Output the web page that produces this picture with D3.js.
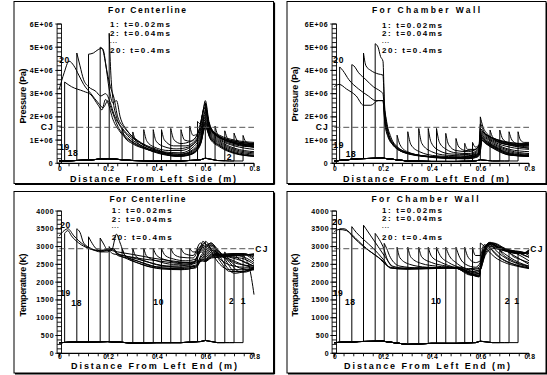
<!DOCTYPE html>
<html lang="en">
<head>
    <meta charset="utf-8" />
    <title>Detonation profiles</title>
    <script src="https://cdn.jsdelivr.net/npm/d3@7"></script>
    <style>
        body { margin: 0; background: #fff; }
        svg { display: block; font-family: 'Liberation Sans', Arial, sans-serif; font-weight: bold; }
        path.curve { fill: none; stroke: #000; stroke-width: 1px; }
        line.cj { stroke: #555; stroke-width: 1px; stroke-dasharray: 6 3; }
        .axis line { stroke: #000; stroke-width: 0.9px; }
        text { fill: #000; }
    </style>
</head>
<body>
<svg id="vis" width="547" height="375"></svg>
<script>
    // ---- data ----
    var xTicks = [0, 0.2, 0.4, 0.6, 0.8];
    var pTicks = [0, 1, 2, 3, 4, 5, 6];            // x 1E6 Pa
    var pTickLabels = ["0", "1E+06", "2E+06", "3E+06", "4E+06", "5E+06", "6E+06"];
    var tTicks = [0, 500, 1000, 1500, 2000, 2500, 3000, 3500, 4000];
    var legendLines = ["1: t=0.02ms", "2: t=0.04ms", "...", "20: t=0.4ms"];
    var cjP = 1.55;
    var cjT = 2940;

    // detonation front position of curves 1..20 (m)
    var fronts = [0.755, 0.718, 0.68, 0.64, 0.60, 0.568, 0.536, 0.50, 0.458, 0.42,
                  0.386, 0.347, 0.302, 0.258, 0.205, 0.168, 0.12, 0.072, 0.022, 0];

    // unburned gas ahead of the front
    var ambX  = [0, 0.1, 0.2, 0.3, 0.4, 0.5, 0.58, 0.6, 0.65, 0.7, 0.8];
    var ambP1 = [0.1, 0.13, 0.2, 0.12, 0.1, 0.1, 0.15, 0.22, 0.12, 0.1, 0.1];
    var ambP2 = [0.1, 0.2, 0.22, 0.1, 0.08, 0.08, 0.1, 0.15, 0.1, 0.1, 0.1];
    var ambT3 = [300, 320, 330, 290, 300, 300, 330, 360, 300, 300, 300];
    var ambT4 = [300, 330, 340, 250, 280, 280, 300, 340, 300, 300, 300];

    // pressure, centerline
    var peakP1 = [1.2, 1.3, 1.4, 1.6, 2.6, 1.8, 1.6, 1.45, 1.5, 1.45, 1.45, 1.45, 1.35, 1.5, 5.6, 5.0, 4.7, 4.75, 3.5, 3.2];
    var profP1 = [
        [[0.765, 0.95], [0.78, 0.85], [0.8, 0.8]],
        [[0.73, 1.0], [0.75, 0.85], [0.8, 0.75]],
        [[0.692, 1.05], [0.71, 0.9], [0.75, 0.8], [0.8, 0.7]],
        [[0.65, 1.25], [0.67, 1.05], [0.72, 0.85], [0.8, 0.7]],
        [[0.61, 1.9], [0.63, 1.4], [0.67, 1.05], [0.72, 0.85], [0.8, 0.7]],
        [[0.58, 1.7], [0.595, 2.4], [0.605, 2.2], [0.62, 1.5], [0.65, 1.15], [0.7, 0.95], [0.8, 0.75]],
        [[0.55, 1.2], [0.57, 1.3], [0.59, 2.2], [0.6, 2.6], [0.615, 1.7], [0.64, 1.25], [0.7, 0.95], [0.8, 0.8]],
        [[0.515, 1.0], [0.54, 0.95], [0.57, 1.3], [0.59, 2.2], [0.6, 2.7], [0.615, 1.8], [0.64, 1.3], [0.7, 1.0], [0.8, 0.85]],
        [[0.472, 1.0], [0.5, 0.85], [0.54, 0.95], [0.57, 1.3], [0.6, 2.4], [0.62, 1.5], [0.66, 1.2], [0.72, 1.0], [0.8, 0.9]],
        [[0.432, 1.0], [0.47, 0.75], [0.52, 0.75], [0.56, 1.0], [0.59, 1.8], [0.6, 2.3], [0.62, 1.5], [0.66, 1.15], [0.72, 0.95], [0.8, 0.85]],
        [[0.398, 0.95], [0.43, 0.72], [0.48, 0.62], [0.53, 0.7], [0.57, 1.1], [0.6, 2.2], [0.62, 1.45], [0.66, 1.1], [0.72, 0.9], [0.8, 0.8]],
        [[0.36, 0.95], [0.39, 0.7], [0.45, 0.55], [0.5, 0.55], [0.55, 0.8], [0.58, 1.3], [0.6, 2.1], [0.62, 1.4], [0.66, 1.05], [0.72, 0.8], [0.8, 0.7]],
        [[0.315, 0.95], [0.35, 0.7], [0.42, 0.5], [0.5, 0.45], [0.55, 0.7], [0.58, 1.2], [0.6, 2.0], [0.62, 1.35], [0.66, 1.0], [0.72, 0.75], [0.8, 0.6]],
        [[0.27, 1.1], [0.3, 0.85], [0.36, 0.6], [0.44, 0.42], [0.5, 0.4], [0.55, 0.6], [0.58, 1.1], [0.6, 1.9], [0.62, 1.3], [0.66, 0.95], [0.72, 0.65], [0.8, 0.5]],
        [[0.212, 3.8], [0.22, 2.8], [0.235, 2.0], [0.26, 1.5], [0.3, 1.1], [0.36, 0.72], [0.44, 0.45], [0.5, 0.38], [0.55, 0.55], [0.58, 1.0], [0.6, 1.8], [0.62, 1.25], [0.66, 0.9], [0.72, 0.6], [0.8, 0.45]],
        [[0.18, 4.9], [0.195, 4.0], [0.21, 3.3], [0.225, 2.8], [0.24, 2.0], [0.27, 1.5], [0.32, 1.0], [0.4, 0.6], [0.48, 0.35], [0.54, 0.45], [0.58, 0.95], [0.6, 1.75], [0.62, 1.2], [0.66, 0.85], [0.72, 0.55], [0.8, 0.4]],
        [[0.14, 4.75], [0.16, 4.9], [0.175, 4.95], [0.19, 4.3], [0.205, 3.2], [0.22, 2.6], [0.235, 2.7], [0.25, 2.0], [0.28, 1.4], [0.33, 0.9], [0.4, 0.55], [0.48, 0.32], [0.54, 0.4], [0.58, 0.9], [0.6, 1.7], [0.62, 1.15], [0.66, 0.8], [0.72, 0.5], [0.8, 0.35]],
        [[0.085, 4.2], [0.1, 3.6], [0.12, 3.3], [0.15, 3.1], [0.17, 2.9], [0.19, 3.0], [0.21, 2.6], [0.225, 2.1], [0.25, 1.6], [0.28, 1.2], [0.33, 0.8], [0.4, 0.5], [0.48, 0.3], [0.54, 0.38], [0.58, 0.85], [0.6, 1.6], [0.62, 1.1], [0.66, 0.75], [0.72, 0.45], [0.8, 0.3]],
        [[0.05, 3.3], [0.1, 3.1], [0.13, 2.95], [0.16, 2.5], [0.175, 2.3], [0.19, 2.75], [0.2, 2.6], [0.22, 1.9], [0.25, 1.35], [0.3, 0.9], [0.36, 0.6], [0.44, 0.35], [0.5, 0.3], [0.55, 0.42], [0.58, 0.8], [0.6, 1.55], [0.62, 1.05], [0.66, 0.7], [0.72, 0.42], [0.8, 0.3]],
        [[0.02, 3.9], [0.04, 4.4], [0.06, 4.2], [0.08, 3.8], [0.1, 3.4], [0.13, 3.0], [0.16, 2.6], [0.18, 2.4], [0.2, 2.7], [0.215, 2.3], [0.24, 1.6], [0.28, 1.1], [0.34, 0.7], [0.42, 0.42], [0.5, 0.32], [0.55, 0.45], [0.58, 0.85], [0.6, 1.6], [0.62, 1.1], [0.66, 0.75], [0.72, 0.45], [0.8, 0.32]]
    ];

    // pressure, chamber wall
    var peakP2 = [1.36, 1.36, 1.43, 1.43, 2.0, 0.9, 0.86, 1.07, 1.29, 1.5, 1.5, 1.5, 1.36, 1.21, 2.4, 5.15, 4.75, 4.25, 4.15, 3.3];
    var profP2 = [
        [[0.765, 1.0], [0.78, 0.9], [0.8, 0.9]],
        [[0.73, 1.0], [0.75, 0.85], [0.8, 0.8]],
        [[0.692, 1.05], [0.72, 0.85], [0.76, 0.75], [0.8, 0.7]],
        [[0.652, 1.1], [0.68, 0.9], [0.72, 0.78], [0.8, 0.65]],
        [[0.61, 1.6], [0.63, 1.25], [0.66, 1.0], [0.72, 0.8], [0.8, 0.65]],
        [[0.58, 0.7], [0.595, 0.8], [0.6, 1.7], [0.615, 1.35], [0.64, 1.15], [0.7, 0.9], [0.8, 0.75]],
        [[0.548, 0.6], [0.575, 0.6], [0.595, 0.75], [0.6, 1.5], [0.615, 1.3], [0.65, 1.1], [0.72, 0.9], [0.8, 0.8]],
        [[0.512, 0.7], [0.54, 0.55], [0.58, 0.6], [0.596, 0.8], [0.602, 1.4], [0.62, 1.25], [0.66, 1.05], [0.72, 0.88], [0.8, 0.85]],
        [[0.47, 0.8], [0.5, 0.55], [0.55, 0.5], [0.585, 0.62], [0.598, 0.9], [0.604, 1.35], [0.62, 1.25], [0.66, 1.0], [0.72, 0.85], [0.8, 0.8]],
        [[0.432, 0.9], [0.46, 0.6], [0.5, 0.45], [0.55, 0.42], [0.585, 0.55], [0.598, 0.85], [0.604, 1.3], [0.62, 1.2], [0.66, 0.95], [0.72, 0.8], [0.8, 0.75]],
        [[0.398, 0.9], [0.43, 0.55], [0.48, 0.4], [0.55, 0.38], [0.585, 0.5], [0.598, 0.8], [0.605, 1.25], [0.62, 1.15], [0.66, 0.9], [0.72, 0.7], [0.8, 0.6]],
        [[0.36, 0.85], [0.4, 0.5], [0.46, 0.35], [0.54, 0.32], [0.585, 0.45], [0.598, 0.75], [0.605, 1.2], [0.62, 1.1], [0.66, 0.85], [0.72, 0.6], [0.8, 0.5]],
        [[0.315, 0.8], [0.35, 0.5], [0.42, 0.32], [0.52, 0.28], [0.585, 0.4], [0.598, 0.7], [0.605, 1.2], [0.62, 1.05], [0.66, 0.8], [0.72, 0.55], [0.8, 0.42]],
        [[0.27, 0.8], [0.3, 0.5], [0.38, 0.3], [0.5, 0.25], [0.585, 0.38], [0.598, 0.65], [0.605, 1.15], [0.62, 1.0], [0.66, 0.75], [0.72, 0.5], [0.8, 0.38]],
        [[0.215, 1.7], [0.23, 1.0], [0.26, 0.6], [0.32, 0.38], [0.42, 0.27], [0.52, 0.24], [0.585, 0.35], [0.598, 0.6], [0.606, 1.1], [0.62, 0.98], [0.66, 0.72], [0.72, 0.45], [0.8, 0.35]],
        [[0.18, 5.0], [0.19, 4.6], [0.2, 4.4], [0.206, 2.6], [0.215, 1.8], [0.23, 1.2], [0.26, 0.7], [0.32, 0.4], [0.42, 0.27], [0.52, 0.22], [0.585, 0.33], [0.598, 0.6], [0.606, 1.1], [0.62, 0.95], [0.66, 0.7], [0.72, 0.42], [0.8, 0.33]],
        [[0.13, 4.2], [0.15, 4.0], [0.18, 3.85], [0.2, 3.8], [0.207, 2.2], [0.22, 1.4], [0.24, 0.9], [0.28, 0.55], [0.35, 0.35], [0.45, 0.25], [0.53, 0.22], [0.585, 0.32], [0.598, 0.55], [0.606, 1.05], [0.62, 0.92], [0.66, 0.68], [0.72, 0.4], [0.8, 0.32]],
        [[0.08, 4.2], [0.1, 3.9], [0.13, 3.6], [0.16, 3.3], [0.19, 3.1], [0.2, 3.0], [0.207, 2.0], [0.22, 1.3], [0.24, 0.85], [0.28, 0.5], [0.35, 0.33], [0.45, 0.24], [0.53, 0.2], [0.585, 0.3], [0.598, 0.5], [0.606, 1.0], [0.62, 0.9], [0.66, 0.65], [0.72, 0.38], [0.8, 0.3]],
        [[0.035, 4.0], [0.06, 3.6], [0.1, 3.2], [0.14, 2.9], [0.17, 2.7], [0.2, 2.7], [0.207, 1.9], [0.22, 1.2], [0.25, 0.75], [0.3, 0.45], [0.38, 0.3], [0.48, 0.22], [0.55, 0.2], [0.59, 0.3], [0.6, 0.55], [0.606, 1.0], [0.62, 0.88], [0.66, 0.62], [0.72, 0.36], [0.8, 0.3]],
        [[0.02, 3.4], [0.05, 3.2], [0.09, 2.9], [0.12, 2.5], [0.15, 2.5], [0.18, 2.7], [0.2, 2.7], [0.207, 1.8], [0.22, 1.15], [0.25, 0.7], [0.3, 0.42], [0.38, 0.28], [0.48, 0.2], [0.55, 0.2], [0.59, 0.28], [0.6, 0.5], [0.606, 0.98], [0.62, 0.86], [0.66, 0.6], [0.72, 0.35], [0.8, 0.3]]
    ];

    // temperature, centerline
    var peakT3 = [2800, 2800, 2850, 2900, 3150, 2950, 2950, 2950, 2950, 2950, 2950, 2950, 2950, 2950, 3000, 3240, 3275, 3500, 3370, 3300];
    var profT3 = [
        [[0.765, 2650], [0.78, 2450], [0.79, 2100], [0.8, 1650]],
        [[0.73, 2700], [0.75, 2600], [0.78, 2500], [0.8, 2450]],
        [[0.69, 2700], [0.72, 2550], [0.76, 2480], [0.8, 2450]],
        [[0.65, 2750], [0.68, 2550], [0.72, 2450], [0.76, 2420], [0.8, 2420]],
        [[0.61, 3100], [0.63, 2800], [0.66, 2500], [0.7, 2350], [0.75, 2350], [0.8, 2400]],
        [[0.58, 2900], [0.595, 3100], [0.61, 3000], [0.63, 2900], [0.66, 2600], [0.7, 2300], [0.75, 2300], [0.8, 2400]],
        [[0.55, 2850], [0.575, 2850], [0.59, 3150], [0.605, 3050], [0.625, 3100], [0.65, 2850], [0.68, 2500], [0.72, 2250], [0.76, 2300], [0.8, 2400]],
        [[0.515, 2800], [0.55, 2750], [0.58, 3100], [0.6, 3000], [0.62, 3050], [0.65, 2900], [0.68, 2650], [0.72, 2300], [0.76, 2280], [0.8, 2380]],
        [[0.472, 2780], [0.5, 2700], [0.55, 2680], [0.58, 3000], [0.6, 2950], [0.62, 3100], [0.66, 2850], [0.7, 2550], [0.74, 2300], [0.8, 2350]],
        [[0.435, 2750], [0.47, 2650], [0.52, 2600], [0.56, 2650], [0.585, 3050], [0.6, 2900], [0.625, 3050], [0.66, 2800], [0.7, 2600], [0.74, 2400], [0.8, 2350]],
        [[0.4, 2750], [0.44, 2620], [0.5, 2550], [0.56, 2580], [0.585, 2950], [0.6, 2850], [0.625, 3000], [0.66, 2750], [0.7, 2650], [0.75, 2500], [0.8, 2400]],
        [[0.36, 2720], [0.4, 2600], [0.47, 2500], [0.55, 2530], [0.585, 2900], [0.6, 2800], [0.625, 2950], [0.66, 2750], [0.7, 2700], [0.75, 2600], [0.8, 2450]],
        [[0.315, 2720], [0.36, 2580], [0.44, 2450], [0.54, 2480], [0.585, 2850], [0.6, 2750], [0.625, 2900], [0.66, 2780], [0.72, 2700], [0.76, 2650], [0.8, 2500]],
        [[0.27, 2750], [0.32, 2600], [0.4, 2430], [0.5, 2420], [0.56, 2480], [0.59, 2800], [0.6, 2700], [0.625, 2850], [0.66, 2750], [0.72, 2750], [0.76, 2700], [0.8, 2550]],
        [[0.215, 2900], [0.235, 3350], [0.25, 3100], [0.27, 2750], [0.32, 2550], [0.4, 2400], [0.5, 2380], [0.56, 2450], [0.59, 2750], [0.6, 2650], [0.625, 2800], [0.66, 2780], [0.72, 2800], [0.76, 2780], [0.8, 2600]],
        [[0.18, 3100], [0.2, 2900], [0.22, 2950], [0.24, 2800], [0.28, 2650], [0.34, 2500], [0.42, 2370], [0.5, 2350], [0.56, 2420], [0.59, 2700], [0.6, 2620], [0.625, 2780], [0.66, 2780], [0.72, 2800], [0.76, 2800], [0.8, 2650]],
        [[0.13, 3150], [0.15, 2950], [0.18, 2850], [0.2, 2850], [0.22, 2950], [0.24, 2750], [0.28, 2680], [0.34, 2550], [0.42, 2400], [0.5, 2360], [0.56, 2400], [0.59, 2650], [0.6, 2600], [0.625, 2750], [0.66, 2760], [0.72, 2800], [0.76, 2800], [0.8, 2700]],
        [[0.085, 3400], [0.1, 3100], [0.13, 2950], [0.17, 2850], [0.2, 2900], [0.22, 2800], [0.26, 2750], [0.32, 2650], [0.4, 2500], [0.5, 2420], [0.56, 2450], [0.59, 2650], [0.6, 2600], [0.625, 2720], [0.66, 2750], [0.72, 2780], [0.76, 2780], [0.8, 2750]],
        [[0.035, 3450], [0.05, 3300], [0.08, 3100], [0.12, 2950], [0.17, 2880], [0.21, 2950], [0.24, 2800], [0.3, 2700], [0.38, 2620], [0.46, 2550], [0.54, 2500], [0.59, 2600], [0.6, 2580], [0.625, 2700], [0.66, 2720], [0.72, 2760], [0.76, 2760], [0.8, 2780]],
        [[0.02, 3450], [0.035, 3500], [0.06, 3300], [0.1, 3050], [0.15, 2900], [0.2, 2900], [0.24, 2850], [0.3, 2780], [0.38, 2680], [0.46, 2600], [0.54, 2550], [0.59, 2600], [0.6, 2580], [0.625, 2680], [0.66, 2700], [0.72, 2740], [0.76, 2760], [0.8, 2800]]
    ];

    // temperature, chamber wall
    var peakT4 = [2850, 2850, 2900, 2950, 3100, 2980, 2980, 2980, 2980, 2980, 2980, 2980, 2980, 2980, 3090, 3370, 3600, 3560, 3500, 3420];
    var profT4 = [
        [[0.765, 2800], [0.78, 2750], [0.8, 2700]],
        [[0.73, 2750], [0.76, 2650], [0.8, 2550]],
        [[0.69, 2800], [0.72, 2650], [0.76, 2520], [0.8, 2450]],
        [[0.65, 2900], [0.68, 2700], [0.72, 2550], [0.76, 2450], [0.8, 2400]],
        [[0.61, 3050], [0.63, 2900], [0.66, 2700], [0.7, 2550], [0.75, 2450], [0.8, 2380]],
        [[0.58, 2750], [0.6, 2750], [0.615, 3050], [0.635, 3000], [0.66, 2800], [0.7, 2600], [0.75, 2480], [0.8, 2400]],
        [[0.55, 2700], [0.58, 2550], [0.6, 2600], [0.615, 3000], [0.64, 3050], [0.67, 2850], [0.71, 2650], [0.76, 2500], [0.8, 2420]],
        [[0.515, 2700], [0.54, 2500], [0.58, 2420], [0.6, 2550], [0.62, 3000], [0.645, 3080], [0.68, 2900], [0.72, 2700], [0.76, 2550], [0.8, 2450]],
        [[0.472, 2750], [0.5, 2550], [0.55, 2380], [0.59, 2400], [0.605, 2550], [0.625, 3000], [0.65, 3100], [0.69, 2950], [0.73, 2780], [0.77, 2620], [0.8, 2500]],
        [[0.435, 2750], [0.47, 2550], [0.52, 2400], [0.56, 2300], [0.595, 2350], [0.61, 2600], [0.63, 3000], [0.655, 3100], [0.7, 2950], [0.75, 2800], [0.8, 2600]],
        [[0.4, 2720], [0.44, 2550], [0.5, 2400], [0.56, 2250], [0.595, 2300], [0.61, 2650], [0.63, 3050], [0.66, 3050], [0.7, 2950], [0.75, 2850], [0.8, 2700]],
        [[0.36, 2700], [0.4, 2550], [0.46, 2450], [0.52, 2350], [0.56, 2220], [0.595, 2250], [0.61, 2700], [0.635, 3100], [0.67, 3000], [0.72, 2900], [0.77, 2850], [0.8, 2750]],
        [[0.315, 2700], [0.36, 2520], [0.42, 2450], [0.5, 2400], [0.56, 2200], [0.595, 2200], [0.61, 2750], [0.635, 3100], [0.67, 3000], [0.72, 2880], [0.77, 2850], [0.8, 2800]],
        [[0.27, 2680], [0.31, 2500], [0.38, 2420], [0.48, 2400], [0.53, 2350], [0.56, 2200], [0.595, 2180], [0.61, 2800], [0.64, 3100], [0.68, 2950], [0.73, 2850], [0.78, 2830], [0.8, 2850]],
        [[0.215, 2950], [0.23, 2700], [0.27, 2450], [0.35, 2400], [0.45, 2400], [0.52, 2380], [0.56, 2220], [0.595, 2150], [0.61, 2850], [0.64, 3120], [0.68, 2950], [0.73, 2850], [0.78, 2820], [0.8, 2880]],
        [[0.18, 3250], [0.2, 3000], [0.22, 2600], [0.25, 2400], [0.32, 2400], [0.42, 2400], [0.5, 2400], [0.56, 2250], [0.595, 2150], [0.61, 2800], [0.64, 3100], [0.68, 2950], [0.73, 2850], [0.78, 2820], [0.8, 2900]],
        [[0.13, 3500], [0.15, 3300], [0.18, 3000], [0.21, 2700], [0.24, 2450], [0.3, 2380], [0.4, 2400], [0.5, 2400], [0.56, 2250], [0.595, 2200], [0.61, 2800], [0.64, 3050], [0.68, 2950], [0.73, 2850], [0.78, 2820], [0.8, 2920]],
        [[0.09, 3400], [0.12, 3200], [0.16, 2950], [0.2, 2650], [0.23, 2400], [0.3, 2380], [0.4, 2400], [0.5, 2420], [0.56, 2280], [0.595, 2250], [0.61, 2750], [0.64, 3000], [0.68, 2920], [0.73, 2830], [0.78, 2800], [0.8, 2900]],
        [[0.04, 3500], [0.07, 3350], [0.1, 3150], [0.14, 2900], [0.18, 2700], [0.22, 2450], [0.26, 2380], [0.35, 2380], [0.45, 2400], [0.52, 2420], [0.57, 2300], [0.6, 2350], [0.62, 2800], [0.65, 3000], [0.7, 2900], [0.75, 2820], [0.8, 2850]],
        [[0.02, 3480], [0.05, 3450], [0.08, 3250], [0.12, 3000], [0.16, 2800], [0.2, 2600], [0.23, 2400], [0.3, 2360], [0.4, 2380], [0.5, 2400], [0.56, 2350], [0.6, 2400], [0.62, 2750], [0.65, 2950], [0.7, 2880], [0.75, 2800], [0.8, 2820]]
    ];

    // ---- layout ----
    var svg = d3.select("#vis");

    var pressureAxis = { max: 6, ticks: pTicks, labels: pTickLabels, minor: 0.2, cj: cjP, title: "Pressure (Pa)", titleLen: 55, labelGap: 6 };
    var tempAxis = { max: 4000, ticks: tTicks, labels: tTicks.map(String), minor: 125, cj: cjT, title: "Temperature (K)", titleLen: 63, labelGap: 5 };

    var panels = [
        { frame: [14, 1.5, 273.5, 183.5], x0: 59.3, yb: 163.3, yt: 24, ax: pressureAxis, amb: ambP1, peaks: peakP1, prof: profP1,
          title: "For Centerline", titleW: 78, titleX: 147, titleY: 13, legX: 110, legY: [27.3, 36.3, 42.5, 53],
          xTitle: "Distance From Left Side (m)", xTitleX: 153, xTitleY: 181.6, xLabY: 170.8, yTitleX: 22.7, yTitleY: 96, cjSide: "left",
          marks: [["20", 64.5, 63], ["19", 64.5, 149.7], ["18", 73, 156.3], ["2", 229.3, 159.7]] },
        { frame: [287, 1.5, 546, 183.5], x0: 334.3, yb: 163.3, yt: 24, ax: pressureAxis, amb: ambP2, peaks: peakP2, prof: profP2,
          title: "For Chamber Wall", titleW: 108, titleX: 426, titleY: 13, legX: 382, legY: [28, 36.3, 42.5, 53],
          xTitle: "Distance From Left End (m)", xTitleX: 426, xTitleY: 181.6, xLabY: 170.8, yTitleX: 295, yTitleY: 94, cjSide: "left",
          marks: [["20", 338.7, 63], ["19", 338.7, 148], ["18", 351, 157]] },
        { frame: [14, 191.5, 273.5, 373], x0: 59.3, yb: 353.3, yt: 211, ax: tempAxis, amb: ambT3, peaks: peakT3, prof: profT3,
          title: "For Centerline", titleW: 76, titleX: 147.5, titleY: 202, legX: 111.7, legY: [213, 221.7, 227.5, 239.7],
          xTitle: "Distance From Left End (m)", xTitleX: 154, xTitleY: 369.3, xLabY: 359.3, yTitleX: 23.3, yTitleY: 285, cjSide: "right",
          marks: [["20", 65.5, 228], ["19", 65.5, 296.3], ["18", 76.7, 306.3], ["10", 158.7, 304.7], ["2", 231.7, 303.7], ["1", 243.3, 303.7]] },
        { frame: [287, 191.5, 546, 373], x0: 334.3, yb: 353.3, yt: 211, ax: tempAxis, amb: ambT4, peaks: peakT4, prof: profT4,
          title: "For Chamber Wall", titleW: 107, titleX: 425, titleY: 202, legX: 382, legY: [213, 221.3, 227.5, 239.7],
          xTitle: "Distance From Left End (m)", xTitleX: 427, xTitleY: 369.3, xLabY: 359.3, yTitleX: 294.7, yTitleY: 285, cjSide: "right",
          marks: [["20", 337.5, 224.7], ["19", 338, 296.3], ["18", 350.3, 305.3], ["10", 436.3, 304], ["2", 507.3, 304], ["1", 517, 304]] }
    ];

    var xWidth = 194.7;

    panels.forEach(drawPanel);

    function drawPanel(c) {
        var g = svg.append("g");
        var x = d3.scaleLinear().domain([0, 0.8]).range([c.x0, c.x0 + xWidth]);
        var y = d3.scaleLinear().domain([0, c.ax.max]).range([c.yb, c.yt]);
        var ambAt = d3.scaleLinear().domain(ambX).range(c.amb);

        // frame with a little shadow on bottom / right
        var f = c.frame;
        g.append("rect").attr("x", f[0]).attr("y", f[1]).attr("width", f[2] - f[0]).attr("height", f[3] - f[1])
            .attr("fill", "none").attr("stroke", "#000").attr("stroke-width", 1);
        g.append("line").attr("x1", f[0] + 1).attr("x2", f[2] + 1).attr("y1", f[3] + 0.8).attr("y2", f[3] + 0.8)
            .attr("stroke", "#000").attr("stroke-width", 1.6);
        g.append("line").attr("x1", f[2] + 0.8).attr("x2", f[2] + 0.8).attr("y1", f[1] + 1).attr("y2", f[3] + 1)
            .attr("stroke", "#000").attr("stroke-width", 1.6);

        // curve number marks (under the curves)
        g.selectAll("text.mark").data(c.marks).enter().append("text").attr("class", "mark")
            .attr("x", function (d) { return d[1]; }).attr("y", function (d) { return d[2]; })
            .attr("text-anchor", "middle").style("font-size", "8.5px").style("letter-spacing", "0.6px")
            .text(function (d) { return d[0]; });

        // curves: unburned part + jump at the front, then the smooth profile behind it
        var lin = d3.line().x(function (d) { return x(d[0]); }).y(function (d) { return y(d[1]); });
        var smooth = d3.line().x(function (d) { return x(d[0]); }).y(function (d) { return y(d[1]); })
            .curve(d3.curveMonotoneX);

        fronts.forEach(function (fr, i) {
            var head = ambX.filter(function (a) { return a < fr; }).map(function (a) { return [a, ambAt(a)]; });
            if (fr > 0) head.push([fr, ambAt(fr)]);
            head.push([fr, c.peaks[i]]);
            if (head.length > 1) g.append("path").attr("class", "curve").attr("d", lin(head));
            g.append("path").attr("class", "curve").attr("d", smooth([[fr, c.peaks[i]]].concat(c.prof[i])));
        });

        // CJ reference line
        g.append("line").attr("class", "cj")
            .attr("x1", x(0)).attr("x2", x(0.8)).attr("y1", y(c.ax.cj)).attr("y2", y(c.ax.cj));
        g.append("text").text("CJ").style("font-size", "8.5px").style("letter-spacing", "1.2px")
            .attr("x", c.cjSide == "left" ? c.x0 - 12 : x(0.8) + 8)
            .attr("y", y(c.ax.cj) + 3).attr("text-anchor", "middle");

        // y axis: ladder of minor ticks
        var ax = g.append("g").attr("class", "axis");
        var minors = d3.range(0, c.ax.max + c.ax.minor / 2, c.ax.minor);
        ax.append("line").attr("x1", c.x0 - 2.2).attr("x2", c.x0 - 2.2).attr("y1", y(0)).attr("y2", y(c.ax.max));
        ax.append("line").attr("x1", c.x0 + 2.2).attr("x2", c.x0 + 2.2).attr("y1", y(0)).attr("y2", y(c.ax.max));
        ax.selectAll("line.minor").data(minors).enter().append("line").attr("class", "minor")
            .attr("x1", c.x0 - 2.2).attr("x2", c.x0 + 2.2)
            .attr("y1", function (d) { return y(d); }).attr("y2", function (d) { return y(d); });
        ax.selectAll("line.major").data(c.ax.ticks).enter().append("line").attr("class", "major")
            .attr("x1", c.x0 - 4).attr("x2", c.x0 + 2.2)
            .attr("y1", function (d) { return y(d); }).attr("y2", function (d) { return y(d); });
        g.selectAll("text.ytick").data(c.ax.ticks).enter().append("text").attr("class", "ytick")
            .attr("x", c.x0 - c.ax.labelGap).attr("y", function (d) { return y(d) + 2.5; })
            .attr("text-anchor", "end").style("font-size", "7px").style("letter-spacing", "0.6px")
            .text(function (d, i) { return c.ax.labels[i]; });

        // x axis
        var xMinor = d3.range(0, 0.8 + 0.02, 0.04);
        ax.append("line").attr("x1", x(0) - 2.2).attr("x2", x(0.8)).attr("y1", c.yb).attr("y2", c.yb)
            .style("stroke-width", "1.3px");
        ax.selectAll("line.xminor").data(xMinor).enter().append("line").attr("class", "xminor")
            .attr("x1", function (d) { return x(d); }).attr("x2", function (d) { return x(d); })
            .attr("y1", c.yb).attr("y2", c.yb + 3);
        ax.selectAll("line.xmajor").data(xTicks).enter().append("line").attr("class", "xmajor")
            .attr("x1", function (d) { return x(d); }).attr("x2", function (d) { return x(d); })
            .attr("y1", c.yb).attr("y2", c.yb + 4);
        g.selectAll("text.xtick").data(xTicks).enter().append("text").attr("class", "xtick")
            .attr("x", function (d) { return x(d) + 1; }).attr("y", c.xLabY)
            .attr("text-anchor", "middle").style("font-size", "6.8px").style("letter-spacing", "0.6px")
            .text(function (d) { return d; });

        // titles
        g.append("text").text(c.title).attr("x", c.titleX).attr("y", c.titleY).attr("text-anchor", "middle")
            .style("font-size", "8.5px").attr("textLength", c.titleW).attr("lengthAdjust", "spacing");
        g.selectAll("text.leg").data(legendLines).enter().append("text").attr("class", "leg")
            .attr("x", c.legX).attr("y", function (d, i) { return c.legY[i]; })
            .style("font-size", function (d) { return d == "..." ? "6px" : "8px"; })
            .attr("textLength", function (d) { return d == "..." ? 7 : (d.length > 11 ? 69 : 60); })
            .attr("lengthAdjust", "spacing")
            .text(function (d) { return d; });
        g.append("text").text(c.xTitle).attr("x", c.xTitleX).attr("y", c.xTitleY).attr("text-anchor", "middle")
            .style("font-size", "9px").attr("textLength", 166).attr("lengthAdjust", "spacing");
        g.append("text").text(c.ax.title)
            .attr("transform", "translate(" + (c.yTitleX + 3) + "," + c.yTitleY + ") rotate(-90)")
            .attr("text-anchor", "middle").style("font-size", "9px")
            .attr("textLength", c.ax.titleLen).attr("lengthAdjust", "spacing");
    }
</script>
</body>
</html>
